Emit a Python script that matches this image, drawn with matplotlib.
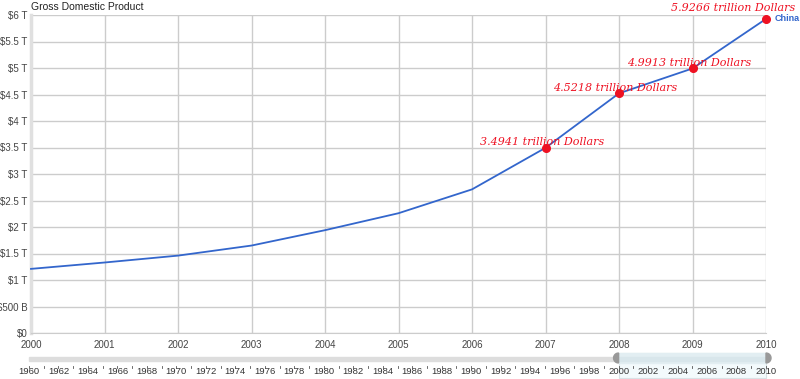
import matplotlib
matplotlib.use("Agg")
import matplotlib.pyplot as plt
from matplotlib.patches import Rectangle

years = [2000, 2001, 2002, 2003, 2004, 2005, 2006, 2007, 2008, 2009, 2010]
gdp_trillion = [1.21, 1.33, 1.46, 1.65, 1.94, 2.26, 2.71, 3.4941, 4.5218, 4.9913, 5.9266]
annotated_years = [2007, 2008, 2009, 2010]
annotation_labels = ["3.4941 trillion Dollars", "4.5218 trillion Dollars",
                     "4.9913 trillion Dollars", "5.9266 trillion Dollars"]
y_ticks = [0, 0.5, 1, 1.5, 2, 2.5, 3, 3.5, 4, 4.5, 5, 5.5, 6]
y_tick_labels = ["$0", "$500 B", "$1 T", "$1.5 T", "$2 T", "$2.5 T", "$3 T",
                 "$3.5 T", "$4 T", "$4.5 T", "$5 T", "$5.5 T", "$6 T"]
slider_years = list(range(1960, 2011))
slider_label_years = list(range(1960, 2011, 2))
series_name = "China"
title = "Gross Domestic Product"

plt.rcParams['font.family'] = ['Liberation Sans', 'DejaVu Sans']
W, H = 800, 379
fig = plt.figure(figsize=(W / 100, H / 100), dpi=100)

def rect(x0, y0, x1, y1):
    return [x0 / W, 1 - y1 / H, (x1 - x0) / W, (y1 - y0) / H]

ax = fig.add_axes(rect(31, 15, 766, 333))
ax.set_xlim(2000, 2010)
ax.set_ylim(0, 6)
ax.set_xticks(years)
ax.set_xticklabels([str(y) for y in years])
ax.set_yticks(y_ticks)
ax.set_yticklabels(y_tick_labels)
ax.grid(True, color="#cccccc", linewidth=1)
ax.set_axisbelow(True)
for s in ["top", "right"]:
    ax.spines[s].set_visible(False)
ax.spines["left"].set_color("#e0e0e0")
ax.spines["left"].set_linewidth(2.5)
ax.spines["bottom"].set_color("#cccccc")
ax.tick_params(length=0, labelsize=7, colors="#444444", pad=3)
ax.tick_params(axis="y", pad=2.5)
ax.tick_params(axis="x", pad=5)

ax.plot(years, gdp_trillion, color="#3366cc", linewidth=1.3, zorder=3, clip_on=False)
for yr, lab in zip(annotated_years, annotation_labels):
    v = gdp_trillion[years.index(yr)]
    ax.plot([yr], [v], "o", color="#ee1122", markersize=5.5, zorder=4, clip_on=False)
    if yr == 2010:
        ax.annotate(lab, (yr, v), xytext=(21, 4), textcoords="offset points",
                    ha="right", va="bottom", color="#ee1122", fontsize=8,
                    family="DejaVu Serif", style="italic", annotation_clip=False)
    else:
        ax.annotate(lab, (yr, v), xytext=(-2.5, 0.5), textcoords="offset points",
                    ha="center", va="bottom", color="#ee1122", fontsize=8,
                    family="DejaVu Serif", style="italic", annotation_clip=False)

ax.annotate(series_name, (2010, 5.9266), xytext=(6.5, 0), textcoords="offset points",
            color="#3366cc", fontsize=6.5, fontweight="bold", ha="left", va="center",
            annotation_clip=False)
fig.text(31 / W, 1 - 7 / H, title, fontsize=7.5, color="#222222", ha="left", va="center")

# slider (y in pixel units, top = 350)
sax = fig.add_axes(rect(29, 350, 766, 379))
sax.set_xlim(1960, 2010)
sax.set_ylim(379, 350)
sax.axis("off")
sax.add_patch(Rectangle((1960, 356.5), 50.2, 4, color="#dddddd", clip_on=False))
sax.add_patch(Rectangle((2000, 353), 10, 25, facecolor="#f3fafc", edgecolor="#d8e2e6",
                        linewidth=0.8, clip_on=False))
sax.add_patch(Rectangle((2000, 353), 10, 10, color="#e2eef2", clip_on=False))
sax.add_patch(Rectangle((2000, 356.5), 10, 4, color="#d8e6eb", clip_on=False))
# handles
ts = [i / 20 for i in range(-20, 21)]
for hx, side in [(2000, -1), (2010, 1)]:
    xs = [hx + side * 0.34 * (1 - t * t) ** 0.5 for t in ts]
    ys = [358 + 5 * t for t in ts]
    sax.fill(xs, ys, color="#999999", clip_on=False)
for yr in slider_label_years:
    sax.text(yr, 372, str(yr), fontsize=6.8, color="#333333", ha="center", va="center")
for yr in slider_years:
    sax.plot([yr, yr], [365.5, 368], color="#555555", linewidth=0.6, clip_on=False)

fig.savefig("out.png", dpi=100)
